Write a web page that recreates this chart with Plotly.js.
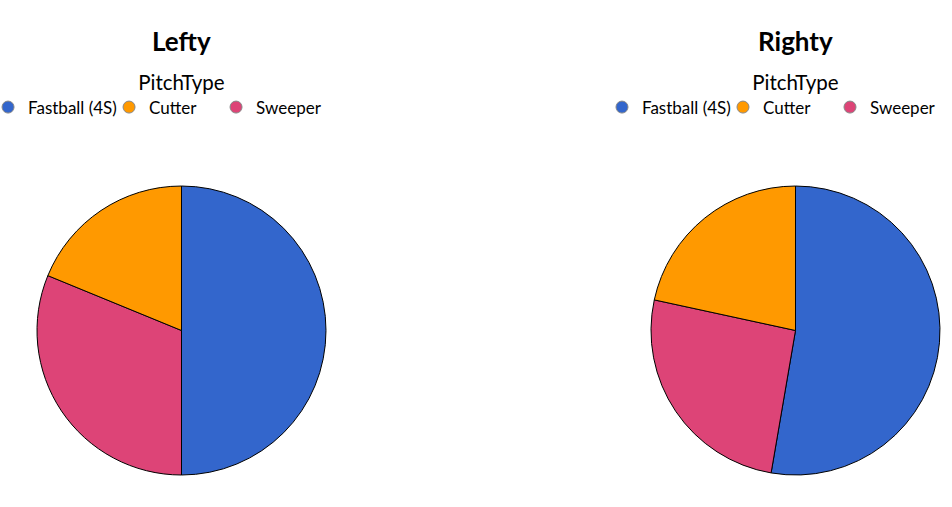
<!DOCTYPE html>
<html>
<head>
<meta charset="utf-8">
<script src="https://cdn.plot.ly/plotly-3.0.1.min.js"></script>
<style>html,body{margin:0;padding:0;background:#fff;}#chart{width:952px;height:507px;}</style>
</head>
<body>
<div id="chart"></div>
<script>
const pitchTypes = ["Fastball (4S)", "Cutter", "Sweeper"];
const pitchColors = ["#3366CC", "#FF9900", "#DD4477"];
const lefty = [50.0, 18.8, 31.2];
const righty = [52.7, 21.6, 25.7];
const panelTitles = ["Lefty", "Righty"];
const legendTitle = "PitchType";
const legendWidths = [76, 62, 114];

const FONT = "Lato, 'Open Sans', sans-serif";

const traces = [];
[lefty, righty].forEach(function(vals, k) {
  traces.push({
    type: "pie", labels: pitchTypes, values: vals,
    marker: {colors: pitchColors, line: {color: "#000", width: 1}},
    textinfo: "none", hoverinfo: "label+percent", showlegend: false,
    sort: true, direction: "clockwise", rotation: 0,
    domain: {x: k === 0 ? [0, 0.3813] : [0.6712, 1.0], y: [0.0631, 0.6331]}
  });
});
["legend", "legend2"].forEach(function(lg) {
  pitchTypes.forEach(function(p, i) {
    traces.push({
      type: "scatter", mode: "markers", x: [null], y: [null], name: p,
      legend: lg, hoverinfo: "skip",
      legendwidth: legendWidths[i],
      marker: {color: pitchColors[i], size: 12, symbol: "circle", line: {color: "#888", width: 1}}
    });
  });
});

const legendCommon = {
  orientation: "h", xanchor: "center", yanchor: "top", y: 0.876,
  entrywidth: 69, entrywidthmode: "pixels",
  title: {text: legendTitle, side: "top center", font: {size: 20.5, family: FONT, color: "#000"}},
  font: {size: 17, family: FONT, color: "#000"},
  bgcolor: "rgba(0,0,0,0)", itemclick: false, itemdoubleclick: false
};

const layout = {
  width: 952, height: 507,
  margin: {l: 0, r: 0, t: 0, b: 0, autoexpand: false},
  paper_bgcolor: "#fff", plot_bgcolor: "#fff",
  font: {family: FONT, color: "#000"},
  xaxis: {visible: false}, yaxis: {visible: false},
  legend: Object.assign({}, legendCommon, {x: 0.1907}),
  legend2: Object.assign({}, legendCommon, {x: 0.8356}),
  annotations: panelTitles.map(function(t, i) {
    return {
      text: "<b>" + t + "</b>", xref: "paper", yref: "paper",
      x: i === 0 ? 0.1907 : 0.8356, y: 1 - 41.5 / 507,
      xanchor: "center", yanchor: "middle", showarrow: false,
      font: {size: 26, family: FONT, color: "#000"}
    };
  })
};

Plotly.newPlot("chart", traces, layout, {displayModeBar: false, staticPlot: true});
</script>
</body>
</html>
